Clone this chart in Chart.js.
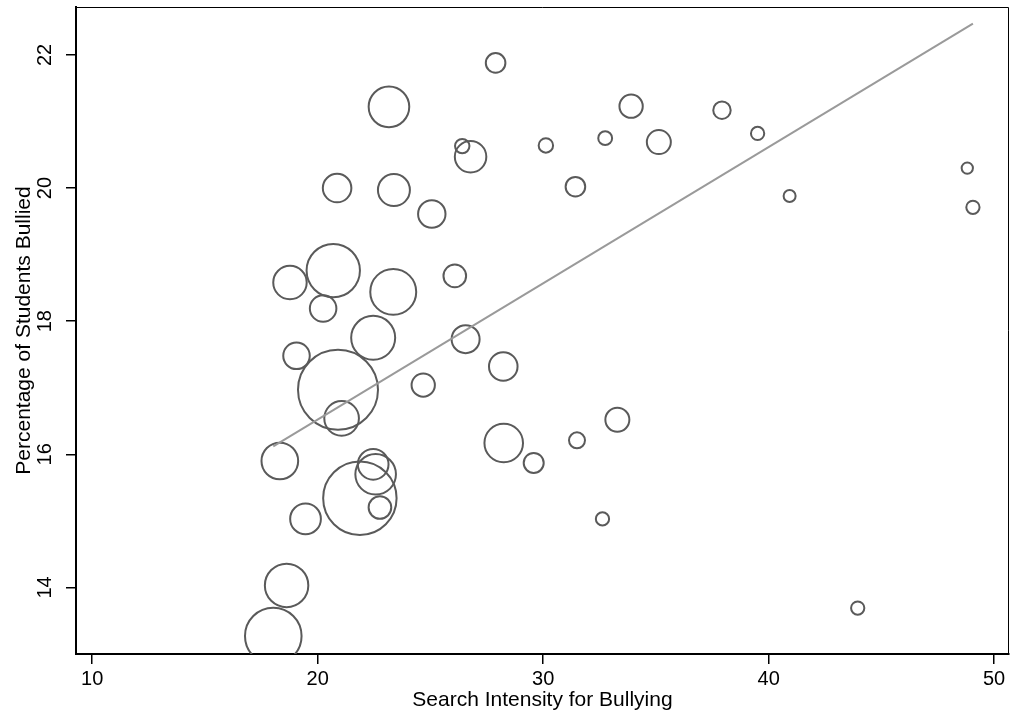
<!DOCTYPE html>
<html>
<head>
<meta charset="utf-8">
<script src="https://cdn.jsdelivr.net/npm/chart.js@4.4.1/dist/chart.umd.min.js"></script>
<style>
  html, body { margin:0; padding:0; background:#fff; }
  #wrap { width:1011px; height:719px; position:relative; }
</style>
</head>
<body>
<div id="wrap"><canvas id="c"></canvas></div>
<script>
// ── data ──────────────────────────────────────────────
const searchIntensity = [
  20.86, 23.38, 25.06, 20.69, 18.77, 20.24, 23.35, 26.08, 22.46, 19.06,
  20.90, 26.56, 24.68, 21.06, 18.32, 22.46, 22.57, 21.87, 22.76, 19.46,
  18.62, 18.03, 27.89, 23.16, 26.41, 26.78, 30.12, 32.75, 33.90, 35.13,
  31.43, 37.93, 39.51, 40.93, 48.81, 49.06, 43.95, 28.23, 33.29, 31.50,
  28.25, 29.58, 32.63
];
const pctBullied = [
  20.00, 19.97, 19.61, 18.76, 18.58, 18.19, 18.44, 18.68, 17.75, 17.48,
  16.97, 17.73, 17.04, 16.54, 15.90, 15.85, 15.70, 15.34, 15.20, 15.03,
  14.03, 13.27, 21.88, 21.22, 20.63, 20.47, 20.64, 20.75, 21.23, 20.69,
  20.02, 21.17, 20.82, 19.88, 20.30, 19.71, 13.69, 17.32, 16.52, 16.21,
  16.17, 15.87, 15.03
];
// marker weight (area of the circle)
const weights = [
  51, 64, 47, 178, 70, 44, 132, 32, 121, 44,
  400, 49, 34, 75, 84, 59, 103, 337, 32, 59,
  118, 200, 24, 103, 13, 62, 13, 12, 34, 36,
  24, 19, 11, 9, 8, 11, 11, 51, 36, 16,
  93, 25, 11
];
// fitted line end points
const fitX = [18.03, 49.06];
const fitY = [16.12, 22.47];

const xTicks = [10, 20, 30, 40, 50];
const yTicks = [14, 16, 18, 20, 22];

// ── chart ─────────────────────────────────────────────
const FONT = "'Liberation Sans', Arial, Helvetica, sans-serif";
const bubbles = searchIntensity.map((x, i) => ({ x, y: pctBullied[i], r: 2 * Math.sqrt(weights[i]) }));
const fitLine = fitX.map((x, i) => ({ x, y: fitY[i] }));

// thin outline on the top and right of the plot region
const frameTR = {
  id: "frameTR",
  afterDatasetsDraw(c) {
    const { ctx, chartArea: a } = c;
    ctx.save();
    ctx.strokeStyle = "#000"; ctx.lineWidth = 1;
    ctx.beginPath();
    ctx.moveTo(a.left, a.top + 0.5);
    ctx.lineTo(a.right - 0.5, a.top + 0.5);
    ctx.lineTo(a.right - 0.5, a.bottom);
    ctx.stroke();
    ctx.restore();
  }
};
function noPad(a){ a.paddingTop = 0; a.paddingBottom = 0; a.paddingLeft = 0; a.paddingRight = 0; }

new Chart(document.getElementById("c"), {
  type: "bubble",
  data: {
    datasets: [
      { type:"line", data: fitLine, borderColor:"#9a9a9a", borderWidth:2, pointRadius:0, fill:false, order:1 },
      { data: bubbles, borderColor:"#5a5a5a", backgroundColor:"rgba(0,0,0,0)", borderWidth:2, hoverRadius:0, order:2 },
    ]
  },
  options: {
    responsive:true, maintainAspectRatio:false, animation:false,
    layout:{ padding:{ top:7, right:2, left:0, bottom:0 }, autoPadding:false },
    plugins:{ legend:{ display:false }, tooltip:{ enabled:false } },
    scales:{
      x:{
        type:"linear", position:"bottom", min:9.28, max:50.66,
        afterBuildTicks:(a)=>{ a.ticks = xTicks.map(v=>({value:v})); },
        afterFit:(a)=>{ a.height = 65; noPad(a); },
        ticks:{ color:"#000", font:{ family:FONT, size:20 }, padding:3, maxRotation:0 },
        grid:{ drawOnChartArea:false, drawTicks:true, tickLength:10, color:"#000", lineWidth:1.5 },
        border:{ color:"#000", width:2 },
        title:{ display:true, text:"Search Intensity for Bullying", color:"#000",
                font:{ family:FONT, size:21 }, padding:{ top:0, bottom:6 } },
      },
      y:{
        type:"linear", position:"left", min:13.0, max:22.72,
        afterBuildTicks:(a)=>{ a.ticks = yTicks.map(v=>({value:v})); },
        afterFit:(a)=>{ a.width = 76; noPad(a); },
        ticks:{ color:"#000", font:{ family:FONT, size:20 }, padding:9, minRotation:90, maxRotation:90, crossAlign:"center" },
        grid:{ drawOnChartArea:false, drawTicks:true, tickLength:10, color:"#000", lineWidth:1.5 },
        border:{ color:"#000", width:2 },
        title:{ display:true, text:"Percentage of Students Bullied", color:"#000",
                font:{ family:FONT, size:21 }, padding:{ top:12, bottom:0 } },
      },
    },
  },
  plugins:[frameTR],
});
</script>
</body>
</html>
